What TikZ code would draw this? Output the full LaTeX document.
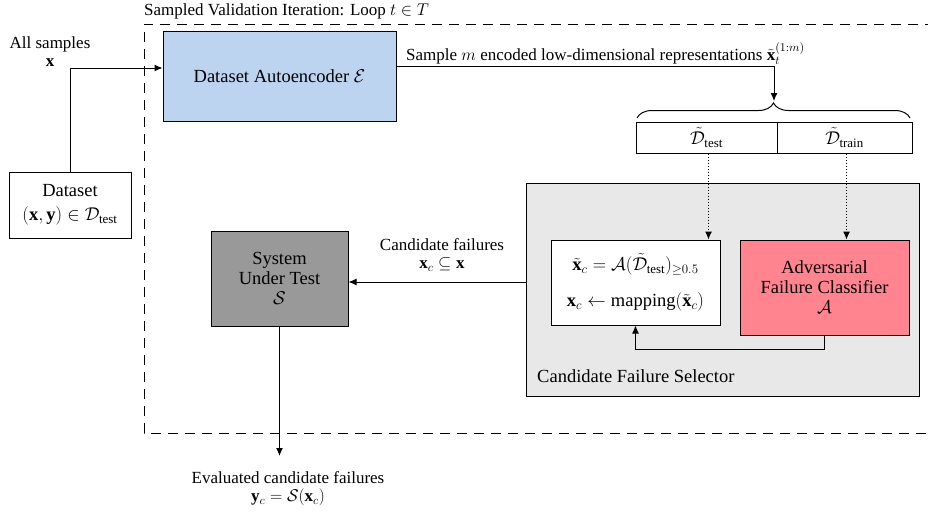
\RequirePackage{fix-cm}
\documentclass[tikz,border=0pt]{standalone}
\usepackage{amsmath,amssymb}
\usepackage{fontspec}
\setmainfont{Liberation Serif}
\usetikzlibrary{arrows.meta,decorations.pathreplacing,calc}
\definecolor{aeblue}{HTML}{BDD4F0}
\definecolor{advred}{HTML}{FF8490}
\definecolor{sutgray}{HTML}{999999}
\definecolor{selgray}{HTML}{E8E8E8}
\begin{document}
\begin{tikzpicture}[x=1pt,y=-1pt,
  lw/.style={line width=1pt},
  boxn/.style={draw, lw, rectangle, inner sep=0pt, align=center, font=\fontsize{18.5}{20}\selectfont},
  lbl/.style={inner sep=0pt, align=center, font=\fontsize{17}{18}\selectfont},
  arr/.style={lw, -{Latex[length=8pt,width=7pt]}}
]
\useasboundingbox (0,0) rectangle (928,514);
% outer dashed loop
\draw[lw, dash pattern=on 10pt off 7pt] (935,24) -- (144,24) -- (144,433) -- (935,433);
\node[lbl, anchor=west] (title) at (144,11.5) {Sampled Validation Iteration: Loop $t \in T$};

% nodes
\node[boxn, fill=aeblue, minimum width=233, minimum height=90] (ae) at (279.5,76) {Dataset Autoencoder $\mathcal{E}$};
\node[boxn, fill=white, minimum width=122, minimum height=66, font=\fontsize{18.5}{24}\selectfont] (data) at (70,205) {Dataset\\$(\mathbf{x},\mathbf{y}) \in \mathcal{D}_{\text{test}}$};
\node[boxn, fill=white, minimum width=141, minimum height=31] (test) at (706.5,137.5) {$\tilde{\mathcal{D}}_{\text{test}}$};
\node[boxn, fill=white, minimum width=135, minimum height=31] (train) at (844.5,137.5) {$\tilde{\mathcal{D}}_{\text{train}}$};
\node[boxn, fill=selgray, minimum width=393, minimum height=213] (sel) at (722.5,289.5) {};
\node[boxn, fill=white, minimum width=169, minimum height=85] (wb) at (635.5,282.5) {$\tilde{\mathbf{x}}_c = \mathcal{A}(\tilde{\mathcal{D}}_{\text{test}})_{\geq 0.5}$\\[16pt]$\mathbf{x}_c \leftarrow \text{mapping}(\tilde{\mathbf{x}}_c)$};
\node[boxn, fill=advred, minimum width=169, minimum height=95] (adv) at (824.5,287.5) {Adversarial\\Failure Classifier\\$\mathcal{A}$};
\node[boxn, fill=sutgray, minimum width=137, minimum height=95] (sut) at (279.5,278.5) {System\\Under Test\\$\mathcal{S}$};
\node[lbl, anchor=west, font=\fontsize{18.5}{20}\selectfont] (sellbl) at (537,376) {Candidate Failure Selector};

% labels
\node[lbl] (alls) at (50,52) {All samples\\$\mathbf{x}$};
\node[lbl, anchor=west] (samplbl) at (406,54) {Sample $m$ encoded low-dimensional representations $\tilde{\mathbf{x}}_t^{(1:m)}$};
\node[lbl] (candlbl) at (442,255) {Candidate failures\\$\mathbf{x}_c \subseteq \mathbf{x}$};
\node[lbl] (evallbl) at (288,489) {Evaluated candidate failures\\$\mathbf{y}_c = \mathcal{S}(\mathbf{x}_c)$};

% brace
\coordinate (tip) at (774,101);
\draw[lw, decorate, decoration={brace, amplitude=15pt}] (637,118) -- (910,118);

% connectors
\draw[arr] (data.north) |- ([yshift=8pt]ae.west);
\draw[arr] ([yshift=10pt]ae.east) -| (tip);
\draw[arr, dotted] ([xshift=2pt]test.south) -- ([xshift=2pt]test.south |- wb.north);
\draw[arr, dotted] ([xshift=2pt]train.south) -- ([xshift=2pt]train.south |- adv.north);
\coordinate (fb) at (824.5,349);
\draw[arr] (adv.south) -- (fb) -| (wb.south);
\coordinate (selw) at (526,282);
\draw[arr] (selw) -- (selw -| sut.east);
\coordinate (outend) at (281,456);
\draw[arr] (sut.south) -- (sut.south |- outend);
\end{tikzpicture}
\end{document}
